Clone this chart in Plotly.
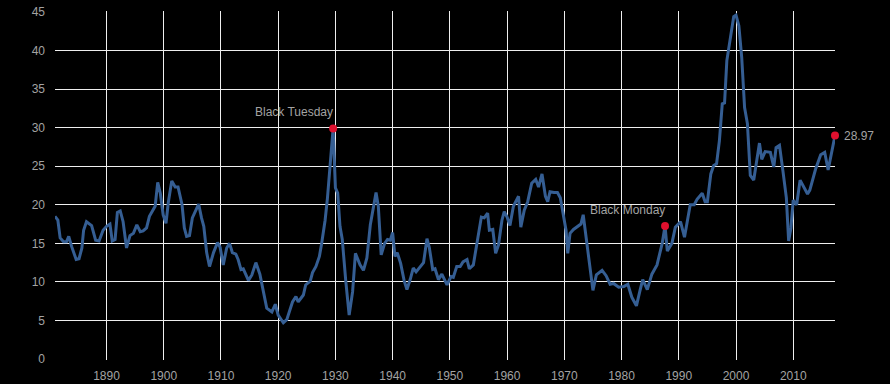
import plotly.graph_objects as go

years = [
    1881.0, 1881.5, 1881.9, 1882.5, 1883.0, 1883.4, 1883.9, 1884.7, 1885.2, 1885.7,
    1886.0, 1886.5, 1887.4, 1888.1, 1888.7, 1889.4, 1890.0, 1890.6, 1891.0, 1891.5,
    1891.9, 1892.4, 1892.9, 1893.5, 1894.1, 1894.7, 1895.3, 1895.9, 1896.4, 1897.0,
    1897.5, 1898.5, 1898.95, 1899.4, 1899.9, 1900.4, 1900.8, 1901.4, 1902.0, 1902.5,
    1903.2, 1903.6, 1904.0, 1904.5, 1905.0, 1906.1, 1906.6, 1907.0, 1907.5, 1908.0,
    1908.7, 1909.4, 1909.85, 1910.4, 1911.0, 1911.5, 1912.0, 1912.6, 1913.0, 1913.5,
    1913.9, 1914.8, 1915.4, 1916.1, 1916.8, 1917.4, 1918.0, 1918.9, 1919.5, 1920.0,
    1920.9, 1921.5, 1922.5, 1923.1, 1923.5, 1924.4, 1924.8, 1925.6, 1926.0, 1926.6,
    1927.2, 1927.6, 1928.2, 1928.6, 1929.1, 1929.6, 1930.0, 1930.4, 1930.8, 1931.2,
    1931.8, 1932.4, 1933.0, 1933.5, 1934.3, 1934.9, 1935.5, 1936.1, 1937.1, 1937.5,
    1938.0, 1938.6, 1939.1, 1939.6, 1940.0, 1940.4, 1940.8, 1941.4, 1942.0, 1942.5,
    1943.1, 1943.6, 1944.1, 1944.7, 1945.4, 1946.0, 1946.4, 1947.0, 1947.4, 1948.0,
    1948.6, 1949.5, 1950.2, 1950.6, 1951.2, 1951.8, 1952.3, 1953.0, 1953.4, 1954.1,
    1954.7, 1955.5, 1956.0, 1956.6, 1956.9, 1957.5, 1958.0, 1958.5, 1959.1, 1959.5,
    1960.0, 1960.5, 1961.1, 1962.0, 1962.4, 1963.0, 1963.6, 1964.3, 1965.0, 1965.5,
    1966.1, 1966.7, 1967.1, 1967.5, 1968.2, 1968.8, 1969.3, 1969.9, 1970.3, 1970.6,
    1971.0, 1971.6, 1972.5, 1972.9, 1973.3, 1974.0, 1974.5, 1975.0, 1975.6, 1976.6,
    1977.3, 1978.0, 1978.6, 1979.5, 1980.4, 1981.1, 1981.8, 1982.6, 1983.2, 1983.7,
    1984.5, 1985.3, 1986.2, 1987.1, 1987.6, 1988.0, 1988.8, 1989.4, 1990.3, 1991.0,
    1992.0, 1992.7, 1993.2, 1994.1, 1994.6, 1995.0, 1995.6, 1996.1, 1996.6, 1997.1,
    1997.6, 1998.0, 1998.4, 1999.0, 1999.6, 2000.0, 2000.5, 2001.0, 2001.5, 2002.0,
    2002.5, 2003.1, 2003.5, 2004.1, 2004.5, 2005.1, 2006.0, 2006.6, 2007.0, 2007.6,
    2008.2, 2008.8, 2009.2, 2009.6, 2010.0, 2010.6, 2011.2, 2011.8, 2012.5, 2012.9,
    2013.9, 2014.8, 2015.5, 2016.1, 2016.7, 2017.3,
]

cape = [
    18.5, 18.0, 15.7, 15.2, 15.2, 15.9, 14.6, 12.9, 13.0, 14.4,
    16.7, 17.8, 17.3, 15.4, 15.3, 16.7, 17.2, 17.5, 15.3, 15.5,
    19.0, 19.2, 17.8, 14.4, 16.0, 16.3, 17.4, 16.5, 16.6, 17.0,
    18.5, 19.8, 22.9, 21.5, 18.7, 17.6, 20.3, 23.1, 22.3, 22.3,
    20.0, 17.0, 15.9, 16.0, 18.3, 20.1, 18.3, 17.2, 13.8, 12.0,
    13.8, 15.1, 14.5, 12.2, 14.4, 15.0, 13.8, 13.6, 12.9, 11.6,
    11.7, 10.2, 10.9, 12.5, 11.0, 8.9, 6.6, 6.1, 7.1, 5.7,
    4.7, 5.1, 7.4, 8.1, 7.4, 8.3, 9.6, 10.1, 11.2, 12.0,
    13.3, 15.0, 18.0, 20.8, 25.8, 29.9, 22.2, 21.5, 17.2, 15.5,
    10.2, 5.7, 8.7, 13.7, 12.2, 11.5, 13.1, 17.4, 21.6, 19.8,
    13.5, 15.0, 15.5, 15.4, 16.4, 13.3, 13.8, 12.4, 10.2, 9.0,
    10.4, 11.8, 11.3, 11.8, 12.5, 15.6, 14.5, 11.6, 11.7, 10.3,
    11.0, 9.6, 10.7, 10.6, 12.0, 12.0, 12.6, 12.9, 11.7, 12.2,
    14.8, 18.4, 18.3, 18.9, 16.7, 16.8, 13.7, 14.8, 18.0, 19.1,
    18.4, 17.3, 19.8, 21.1, 17.1, 19.3, 20.4, 22.8, 23.3, 22.3,
    24.0, 21.1, 20.4, 21.7, 21.6, 21.6, 20.9, 18.4, 16.7, 13.7,
    16.3, 16.8, 17.3, 17.5, 18.7, 14.4, 11.5, 8.9, 10.9, 11.5,
    10.8, 9.7, 9.8, 9.3, 9.4, 9.7, 8.0, 6.9, 8.8, 10.3,
    9.0, 11.0, 12.2, 15.0, 17.25, 14.0, 15.0, 17.1, 17.8, 15.8,
    20.0, 20.0, 20.7, 21.5, 20.4, 20.4, 24.0, 25.1, 25.3, 28.3,
    33.1, 33.2, 38.7, 41.7, 44.4, 44.6, 43.2, 39.1, 32.6, 30.5,
    23.8, 23.2, 25.3, 28.0, 25.9, 26.9, 26.8, 24.9, 27.4, 27.7,
    24.4, 20.9, 15.3, 17.0, 20.6, 20.0, 23.2, 22.4, 21.4, 21.9,
    24.6, 26.5, 26.8, 24.5, 27.0, 28.97,
]

event_names = ["Black Tuesday", "Black Monday"]
event_years = [1929.6, 1987.6]

x_ticks = [1890, 1900, 1910, 1920, 1930, 1940, 1950, 1960, 1970, 1980, 1990, 2000, 2010]
y_ticks = [0, 5, 10, 15, 20, 25, 30, 35, 40, 45]

LINE = "#355e93"
RED = "#e0102e"
TXT = "#a3a3a3"
GRID = "#eeeeee"
FONT = "Liberation Sans, Arial, sans-serif"

event_vals = [cape[years.index(y)] for y in event_years]

fig = go.Figure()
fig.add_trace(go.Scatter(
    x=years, y=cape, mode="lines",
    line=dict(color=LINE, width=3),
    hoverinfo="skip", showlegend=False,
))
fig.add_trace(go.Scatter(
    x=event_years + [years[-1]], y=event_vals + [cape[-1]], mode="markers",
    marker=dict(color=RED, size=8), cliponaxis=False,
    hoverinfo="skip", showlegend=False,
))

for name, yr, val in zip(event_names, event_years, event_vals):
    fig.add_annotation(
        x=yr, y=val, text=name, showarrow=False,
        xanchor="right", yanchor="bottom", xshift=2, yshift=7,
        font=dict(color=TXT, size=12, family=FONT),
    )
fig.add_annotation(
    x=years[-1], y=cape[-1], text=f"{cape[-1]:.2f}", showarrow=False,
    xanchor="left", yanchor="middle", xshift=7,
    font=dict(color=TXT, size=12, family=FONT),
)

fig.update_layout(
    width=890, height=384,
    margin=dict(l=55, r=55, t=11, b=24),
    paper_bgcolor="black", plot_bgcolor="black",
    font=dict(family=FONT, color=TXT, size=12),
    hovermode=False,
    xaxis=dict(
        range=[1881.0, 2017.3], tickvals=x_ticks, ticktext=[str(t) for t in x_ticks],
        showgrid=True, gridcolor=GRID, gridwidth=1, automargin=False,
        zeroline=False, showline=False, ticks="", ticklabelstandoff=7,
        tickfont=dict(size=12, color=TXT),
    ),
    yaxis=dict(
        range=[-0.13, 45.13], tickvals=y_ticks, ticktext=[str(t) for t in y_ticks],
        showgrid=True, gridcolor=GRID, gridwidth=1, automargin=False,
        zeroline=False, showline=False, ticks="", ticklabelstandoff=9,
        tickfont=dict(size=12, color=TXT),
    ),
)

fig.write_html(
    "out.html",
    config={"displayModeBar": False},
    post_script="document.body.style.margin='0';document.body.style.background='black';",
)
